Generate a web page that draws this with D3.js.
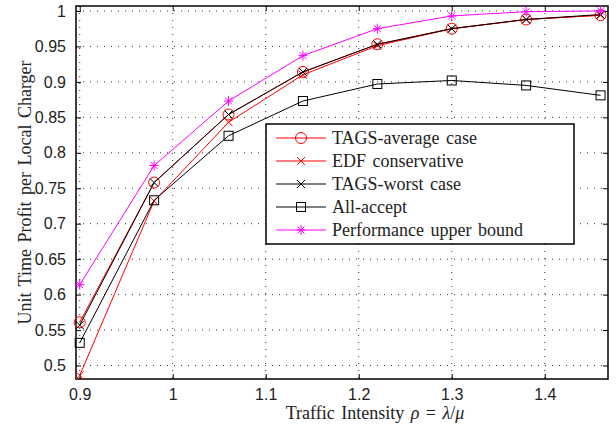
<!DOCTYPE html>
<html lang="en">
<head>
    <meta charset="UTF-8">
    <title>Unit Time Profit per Local Charger</title>
    <script src="https://cdnjs.cloudflare.com/ajax/libs/d3/7.8.2/d3.min.js"></script>
    <style>
        body {
            margin: 0;
            padding: 0;
            background-color: #ffffff;
        }
        svg {
            display: block;
        }
        .tick text {
            font-family: "Liberation Sans", Arial, sans-serif;
            font-size: 16px;
            fill: #222;
        }
        .grid line {
            stroke: #333;
            stroke-width: 1;
            stroke-dasharray: 1, 6;
        }
        .label {
            font-family: "Liberation Serif", "Times New Roman", serif;
            font-size: 18px;
            fill: #222;
            word-spacing: 2px;
        }
        .legend text {
            font-family: "Liberation Serif", "Times New Roman", serif;
            font-size: 18px;
            fill: #222;
            word-spacing: 2px;
        }
    </style>
</head>
<body>
    <svg width="616" height="428"></svg>

    <script>
        // traffic intensity values (x)
        const rho = [0.9, 0.98, 1.06, 1.14, 1.22, 1.30, 1.38, 1.46];

        const tagsAverage = [0.561, 0.758, 0.854, 0.914, 0.953, 0.975, 0.988, 0.994];
        const edfConservative = [0.486, 0.732, 0.843, 0.910, 0.951, 0.975, 0.988, 0.994];
        const tagsWorst = [0.557, 0.758, 0.854, 0.914, 0.953, 0.975, 0.988, 0.995];
        const allAccept = [0.532, 0.733, 0.824, 0.873, 0.897, 0.902, 0.895, 0.881];
        const upperBound = [0.614, 0.782, 0.873, 0.937, 0.975, 0.993, 0.999, 1.0];

        const xTicks = [0.9, 1, 1.1, 1.2, 1.3, 1.4];
        const yTicks = [0.5, 0.55, 0.6, 0.65, 0.7, 0.75, 0.8, 0.85, 0.9, 0.95, 1];

        const series = [
            { name: "TAGS-average case", values: tagsAverage, color: "#ff0000", marker: "circle" },
            { name: "EDF conservative", values: edfConservative, color: "#ff0000", marker: "x" },
            { name: "TAGS-worst case", values: tagsWorst, color: "#000000", marker: "x" },
            { name: "All-accept", values: allAccept, color: "#000000", marker: "square" },
            { name: "Performance upper bound", values: upperBound, color: "#ff00ff", marker: "star" }
        ];

        const svg = d3.select("svg");
        const margin = { top: 6, right: 8, bottom: 49, left: 76 };
        const width = 616 - margin.left - margin.right,
              height = 428 - margin.top - margin.bottom;

        const g = svg.append("g")
            .attr("transform", `translate(${margin.left},${margin.top})`);

        const x = d3.scaleLinear().domain([0.896, 1.468]).range([0, width]);
        const y = d3.scaleLinear().domain([0.481, 1.007]).range([height, 0]);

        // grid
        g.append("g").attr("class", "grid")
            .selectAll("line").data(xTicks).enter().append("line")
            .attr("x1", d => x(d)).attr("x2", d => x(d))
            .attr("y1", 0).attr("y2", height);
        g.append("g").attr("class", "grid")
            .selectAll("line").data(yTicks).enter().append("line")
            .attr("x1", 0).attr("x2", width)
            .attr("y1", d => y(d)).attr("y2", d => y(d));

        // axes, ticks inward
        g.append("g")
            .attr("transform", `translate(0,${height})`)
            .call(d3.axisBottom(x).tickValues(xTicks).tickSizeInner(-5).tickSizeOuter(0).tickPadding(10).tickFormat(d3.format("")));
        g.append("g")
            .call(d3.axisLeft(y).tickValues(yTicks).tickSizeInner(-5).tickSizeOuter(0).tickPadding(10).tickFormat(d3.format("")));
        g.append("g")
            .call(d3.axisTop(x).tickValues(xTicks).tickSizeInner(-5).tickSizeOuter(0).tickFormat(""));
        g.append("g")
            .attr("transform", `translate(${width},0)`)
            .call(d3.axisRight(y).tickValues(yTicks).tickSizeInner(-5).tickSizeOuter(0).tickFormat(""));
        g.selectAll(".domain").remove();
        g.selectAll(".tick line").attr("stroke", "#000");

        // frame
        g.append("rect")
            .attr("width", width).attr("height", height)
            .attr("fill", "none").attr("stroke", "#000").attr("stroke-width", 1.5);

        // markers
        function drawMarker(sel, type, color) {
            if (type === "circle") {
                sel.append("circle").attr("r", 5.5)
                    .attr("fill", "none").attr("stroke", color).attr("stroke-width", 1);
            } else if (type === "square") {
                sel.append("rect").attr("x", -4.5).attr("y", -4.5)
                    .attr("width", 9).attr("height", 9)
                    .attr("fill", "none").attr("stroke", color).attr("stroke-width", 1);
            } else if (type === "x") {
                sel.append("path").attr("d", "M-4,-4L4,4M-4,4L4,-4")
                    .attr("stroke", color).attr("stroke-width", 1);
            } else if (type === "star") {
                sel.append("path").attr("d", "M-4.5,0L4.5,0M0,-5L0,5M-3.5,-3.5L3.5,3.5M-3.5,3.5L3.5,-3.5")
                    .attr("stroke", color).attr("stroke-width", 1);
            }
        }

        const line = d3.line().x((d, i) => x(rho[i])).y(d => y(d));

        series.forEach(s => {
            g.append("path")
                .datum(s.values)
                .attr("fill", "none")
                .attr("stroke", s.color)
                .attr("stroke-width", 1)
                .attr("d", line);
            g.selectAll(null)
                .data(s.values)
                .enter().append("g")
                .attr("transform", (d, i) => `translate(${x(rho[i])},${y(d)})`)
                .each(function () { drawMarker(d3.select(this), s.marker, s.color); });
        });

        // legend
        const legend = svg.append("g").attr("class", "legend")
            .attr("transform", "translate(266,124)");
        legend.append("rect")
            .attr("width", 308).attr("height", 120)
            .attr("fill", "#fff").attr("stroke", "#000").attr("stroke-width", 1.5);
        series.forEach((s, i) => {
            const row = legend.append("g").attr("transform", `translate(0,${14 + i * 23})`);
            row.append("line").attr("x1", 10).attr("x2", 60)
                .attr("stroke", s.color).attr("stroke-width", 1);
            const m = row.append("g").attr("transform", "translate(35,0)");
            drawMarker(m, s.marker, s.color);
            row.append("text").attr("x", 66).attr("dy", "0.35em").text(s.name);
        });

        // axis labels
        svg.append("text").attr("class", "label")
            .attr("x", 375).attr("y", 419)
            .attr("text-anchor", "middle")
            .html('Traffic Intensity <tspan font-style="italic">ρ</tspan> = <tspan font-style="italic">λ</tspan>/<tspan font-style="italic">μ</tspan>');
        svg.append("text").attr("class", "label")
            .attr("transform", `translate(31,${margin.top + height / 2}) rotate(-90)`)
            .attr("text-anchor", "middle")
            .text("Unit Time Profit per Local Charger");
    </script>
</body>
</html>
